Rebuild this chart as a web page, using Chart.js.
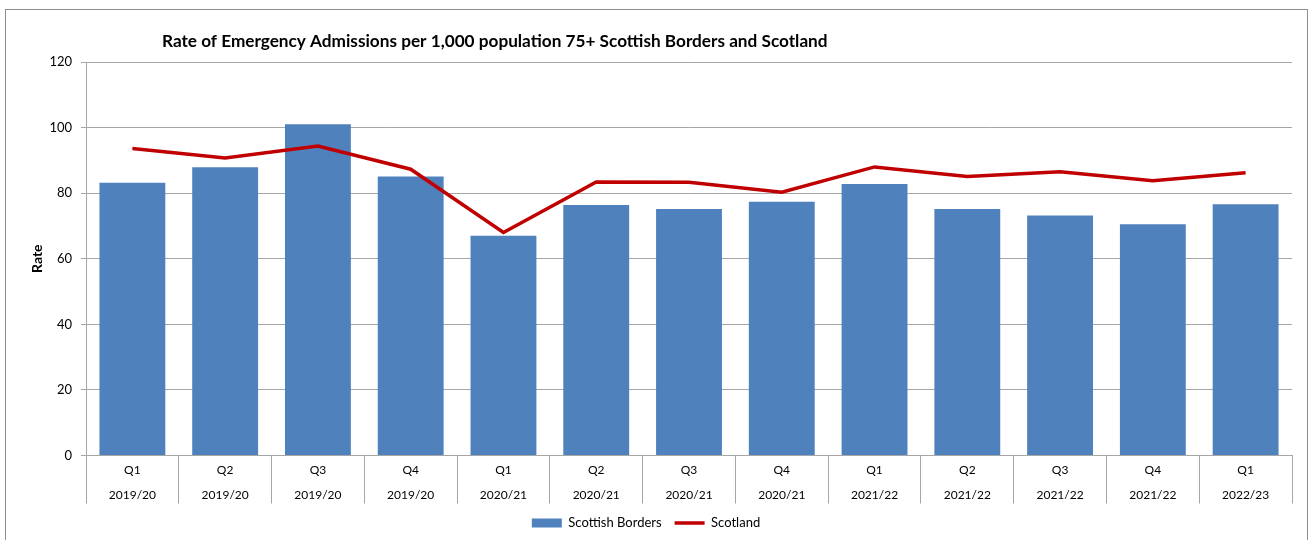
<!DOCTYPE html>
<html>
<head>
<meta charset="utf-8">
<script src="https://cdn.jsdelivr.net/npm/chart.js@4"></script>
<style>
  html, body { margin: 0; padding: 0; background: #fff; }
  #wrap { width: 1311px; height: 540px; position: relative; }
</style>
</head>
<body>
<div id="wrap"><canvas id="admissionsChart" width="1311" height="540"></canvas></div>
<script>
const quarters = ["Q1", "Q2", "Q3", "Q4", "Q1", "Q2", "Q3", "Q4", "Q1", "Q2", "Q3", "Q4", "Q1"];
const years = ["2019/20", "2019/20", "2019/20", "2019/20", "2020/21", "2020/21", "2020/21", "2020/21",
               "2021/22", "2021/22", "2021/22", "2021/22", "2022/23"];
const bordersRate = [83.2, 87.9, 101.0, 85.1, 67.0, 76.4, 75.2, 77.4, 82.8, 75.2, 73.2, 70.5, 76.6];
const scotlandRate = [93.6, 90.7, 94.4, 87.3, 68.0, 83.4, 83.3, 80.3, 88.0, 85.1, 86.5, 83.8, 86.2];
const yTicks = [0, 20, 40, 60, 80, 100, 120];

const chartTitle = "Rate of Emergency Admissions per 1,000 population 75+ Scottish Borders and Scotland";
const gridGrey = "#a6a6a6";

// frame round the whole chart + title text
const framePlugin = {
    id: "frame",
    beforeDraw(chart) {
        const ctx = chart.ctx;
        ctx.save();
        ctx.strokeStyle = "#8e8e8e";
        ctx.lineWidth = 1;
        ctx.strokeRect(5.5, 9.5, 1302, 560);
        ctx.restore();
    },
    afterDraw(chart) {
        const ctx = chart.ctx;
        ctx.save();
        ctx.fillStyle = "#000";
        ctx.font = "bold 17.2px Lato";
        ctx.textBaseline = "alphabetic";
        ctx.fillText(chartTitle, 162, 47);
        ctx.restore();
    }
};

const ctx = document.getElementById("admissionsChart").getContext("2d");

new Chart(ctx, {
    type: "bar",
    data: {
        labels: quarters.map((q, i) => [q, years[i]]),
        datasets: [
            {
                label: "Scottish Borders",
                data: bordersRate,
                backgroundColor: "#4f81bd",
                borderWidth: 0,
                barPercentage: 0.71,
                categoryPercentage: 1,
                order: 1
            },
            {
                type: "line",
                label: "Scotland",
                data: scotlandRate,
                borderColor: "#c00000",
                backgroundColor: "#c00000",
                borderWidth: 3.5,
                pointRadius: 0,
                tension: 0,
                order: 0
            }
        ]
    },
    options: {
        responsive: false,
        animation: false,
        layout: { padding: { left: 0, right: 19, top: 62, bottom: 0.5 } },
        plugins: {
            legend: {
                position: "bottom",
                labels: {
                    font: { family: "Lato", size: 13 },
                    color: "#000",
                    usePointStyle: true,
                    pointStyleWidth: 30,
                    boxHeight: 9,
                    padding: 13,
                    generateLabels(chart) {
                        const items = Chart.defaults.plugins.legend.labels.generateLabels(chart);
                        items.sort((a, b) => a.datasetIndex - b.datasetIndex);
                        items.forEach((it) => {
                            it.pointStyle = it.datasetIndex === 0 ? "rect" : "line";
                        });
                        return items;
                    }
                }
            },
            tooltip: { enabled: false }
        },
        scales: {
            x: {
                offset: true,
                grid: {
                    display: true,
                    drawOnChartArea: false,
                    offset: true,
                    tickLength: 48,
                    color: gridGrey
                },
                border: { display: true, color: gridGrey },
                ticks: {
                    autoSkip: false,
                    maxRotation: 0,
                    padding: -46,
                    color: "#000",
                    font: { family: "Lato", size: 12, lineHeight: 25 / 12 }
                },
                afterFit(scale) { scale.height = 48; }
            },
            y: {
                min: 0,
                max: 120,
                afterBuildTicks(scale) { scale.ticks = yTicks.map((v) => ({ value: v })); },
                grid: { color: gridGrey, tickLength: 5 },
                border: { display: true, color: gridGrey },
                ticks: {
                    padding: 9,
                    color: "#000",
                    font: { family: "Lato", size: 13 }
                },
                title: {
                    display: true,
                    text: "Rate",
                    color: "#000",
                    font: { family: "Lato", size: 14, weight: "bold" },
                    padding: { top: 29, bottom: 0 }
                },
                afterFit(scale) { scale.width = 86; }
            }
        }
    },
    plugins: [framePlugin]
});
</script>
</body>
</html>
